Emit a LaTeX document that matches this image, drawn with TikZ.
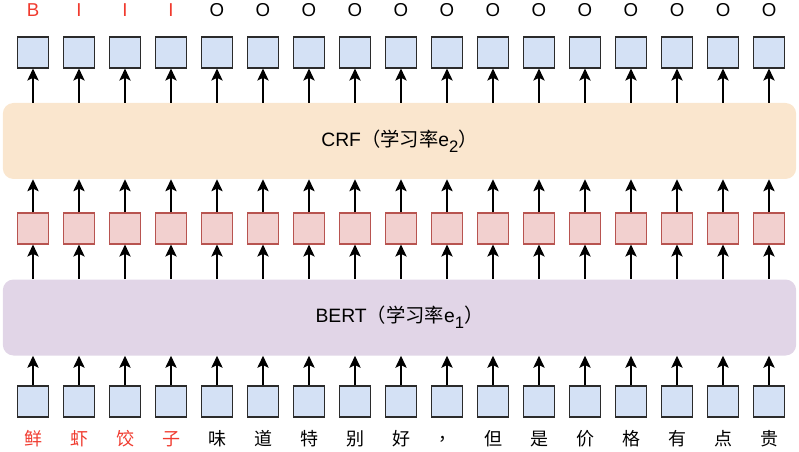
\documentclass[tikz,border=0pt]{standalone}
\usepackage{fontspec}
\setmainfont{Liberation Sans}
\newfontfamily\cjk{Noto Sans CJK SC}
\usetikzlibrary{arrows.meta,positioning}
\definecolor{tokblue}{HTML}{D4E1F5}
\definecolor{tokline}{HTML}{2B2B2B}
\definecolor{embfill}{HTML}{F2D0CF}
\definecolor{embline}{HTML}{B85450}
\definecolor{crffill}{HTML}{FAE6CE}
\definecolor{bertfill}{HTML}{E1D5E7}
\definecolor{tagred}{HTML}{F03A2E}
\newcommand{\lrate}[1]{{\cjk（学习率}e\raisebox{-0.55ex}{\fontsize{12.5}{14}\selectfont #1}{\cjk）}}

\begin{document}
\begin{tikzpicture}[x=0.75pt,y=-0.75pt,>={Stealth[length=9pt,width=8.5pt,inset=2pt]},
  tok/.style={draw=tokline,line width=1.1pt,fill=tokblue,minimum size=23pt,inner sep=0pt},
  emb/.style={draw=embline,line width=1.1pt,fill=embfill,minimum size=23pt,inner sep=0pt},
  layer/.style={rounded corners=8pt,minimum width=595pt,minimum height=57pt,font=\fontsize{14.5}{16}\selectfont},
  tag/.style={inner sep=0pt,font=\fontsize{14}{16}\selectfont},
  word/.style={inner sep=0pt,font=\cjk\fontsize{13.5}{15}\selectfont}]
\useasboundingbox (0,0) rectangle (799,452);
\node[layer,fill=crffill] (crf) at (399.5,141) {CRF\lrate{2}};
\node[layer,fill=bertfill] (bert) at (399.5,317.5) {BERT\lrate{1}};
\foreach \t/\w/\c [count=\i] in {B/鲜/tagred,I/虾/tagred,I/饺/tagred,I/子/tagred,O/味/black,O/道/black,O/特/black,O/别/black,O/好/black,O/，/black,O/但/black,O/是/black,O/价/black,O/格/black,O/有/black,O/点/black,O/贵/black}{
  \pgfmathsetmacro\cx{33+46*(\i-1)}
  \node[tok] (b\i) at (\cx,401.5) {};
  \node[word,text=\c] (w\i) at (\cx,439) {\w};
  \node[emb] (p\i) at (\cx,228.5) {};
  \node[tok] (t\i) at (\cx,52.5) {};
  \node[tag,text=\c] (l\i) at (\cx,10.5) {\t};
  \draw[->,line width=1pt] (b\i) -- (b\i |- bert.south);
  \draw[->,line width=1pt] (p\i |- bert.north) -- (p\i);
  \draw[->,line width=1pt] (p\i) -- (p\i |- crf.south);
  \draw[->,line width=1pt] (t\i |- crf.north) -- (t\i);
}
\end{tikzpicture}
\end{document}
